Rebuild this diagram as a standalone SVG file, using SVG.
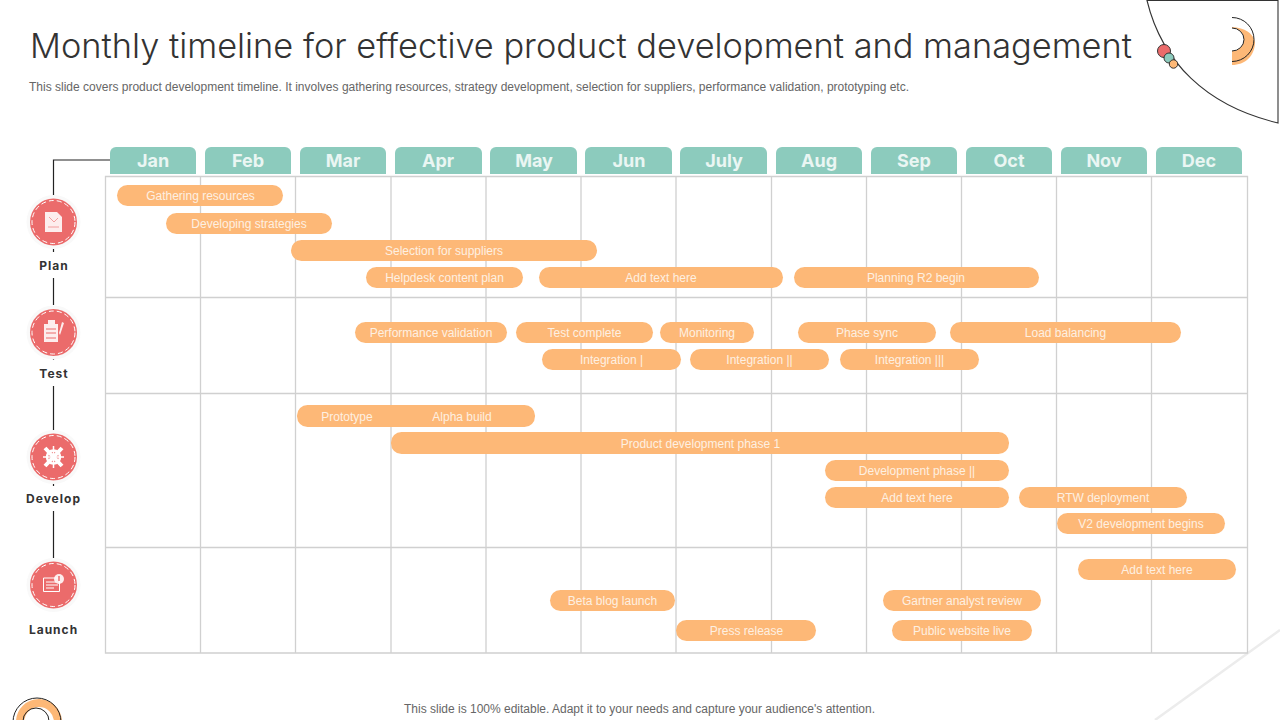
<svg xmlns="http://www.w3.org/2000/svg" width="1280" height="720" viewBox="0 0 1280 720">
<style>
text{font-family:"Liberation Sans",Arial,sans-serif}
.title{font-family:Inter,"Liberation Sans",sans-serif;font-weight:300;font-size:34px;fill:#333}
.sub{font-size:12px;fill:#666}
.tab{fill:#8ccbbd}
.m{font-family:Inter,"Liberation Sans",sans-serif;font-weight:700;font-size:18px;fill:#eaf6f3;text-anchor:middle}
.g{stroke:#d0d0d0;stroke-width:1.3;fill:none}
.b{fill:#fdb877}
.t{font-size:12px;fill:#fdf0e2;text-anchor:middle}
.c{fill:#eb6b6b}
.halo{fill:#f9f9f9}
.st{fill:none;stroke:#fff;stroke-width:1;stroke-dasharray:5 3}
.l{font-family:Inter,"Liberation Sans",sans-serif;font-weight:700;font-size:12px;fill:#333;text-anchor:middle;letter-spacing:1px}
.k{stroke:#222;stroke-width:1.2;fill:none}
.i{fill:#fff;fill-opacity:.88}
.iln{stroke:#eb6b6b;stroke-width:1;fill:none}
</style>
<g id="decor">
<path d="M1147 .5C1162 62 1206 106 1278 123V.5Z" fill="#fff" stroke="#333" stroke-width="1.1"/>
<path d="M1232 27C1245 28 1253 33 1255 42C1255 56 1245 65 1232 65V51A12 11.500 0 0 0 1232 28Z" fill="#fdb877"/>
<path d="M1232 17.500A22 22 0 0 1 1232 61.500M1232 28A12 11.500 0 0 1 1232 51" fill="none" stroke="#222" stroke-width="1"/>
<circle cx="1164" cy="51" r="6.500" fill="#eb6b6b" stroke="#333"/>
<circle cx="1169" cy="58" r="5" fill="#8ccbbd" stroke="#333"/>
<circle cx="1173.500" cy="64" r="4.200" fill="#fdb877" stroke="#333"/>
<path d="M1155 720L1280 630" stroke="#ececec" stroke-width="2.500" fill="none"/>
<circle cx="39" cy="722" r="19" fill="none" stroke="#fdb877" stroke-width="8"/>
<circle cx="37" cy="722" r="24" fill="none" stroke="#222" stroke-width="1"/>
<circle cx="36" cy="721" r="13" fill="none" stroke="#222" stroke-width="1"/>
</g>
<g id="heading">
<text class="title" x="30" y="58" textLength="1102" lengthAdjust="spacingAndGlyphs">Monthly timeline for effective product development and management</text>
<text class="sub" x="29" y="91" textLength="880" lengthAdjust="spacingAndGlyphs">This slide covers product development timeline. It involves gathering resources, strategy development, selection for suppliers, performance validation, prototyping etc.</text>
<text class="sub" x="404" y="713" textLength="471" lengthAdjust="spacingAndGlyphs">This slide is 100% editable. Adapt it to your needs and capture your audience's attention.</text>
</g>
<g id="grid">
<path class="g" d="M105.500 176.500H1247.500V653H105.500ZM200.500 176.500V653M295.500 176.500V653M391 176.500V653M486 176.500V653M581 176.500V653M676 176.500V653M771.500 176.500V653M866.500 176.500V653M961.500 176.500V653M1056.500 176.500V653M1151.500 176.500V653M105.500 297.500H1247.500M105.500 393.500H1247.500M105.500 547.500H1247.500"/>
</g>
<g id="months">
<g id="m-jan"><path class="tab" d="M110 174V153a6 6 0 0 1 6-6H190a6 6 0 0 1 6 6V174Z"/><text class="m" x="153" y="167">Jan</text></g>
<g id="m-feb"><path class="tab" d="M205 174V153a6 6 0 0 1 6-6H285a6 6 0 0 1 6 6V174Z"/><text class="m" x="248" y="167">Feb</text></g>
<g id="m-mar"><path class="tab" d="M300 174V153a6 6 0 0 1 6-6H380a6 6 0 0 1 6 6V174Z"/><text class="m" x="343" y="167">Mar</text></g>
<g id="m-apr"><path class="tab" d="M395 174V153a6 6 0 0 1 6-6H476a6 6 0 0 1 6 6V174Z"/><text class="m" x="438" y="167">Apr</text></g>
<g id="m-may"><path class="tab" d="M490 174V153a6 6 0 0 1 6-6H571a6 6 0 0 1 6 6V174Z"/><text class="m" x="534" y="167">May</text></g>
<g id="m-jun"><path class="tab" d="M585 174V153a6 6 0 0 1 6-6H666a6 6 0 0 1 6 6V174Z"/><text class="m" x="629" y="167">Jun</text></g>
<g id="m-jul"><path class="tab" d="M680 174V153a6 6 0 0 1 6-6H761a6 6 0 0 1 6 6V174Z"/><text class="m" x="724" y="167">July</text></g>
<g id="m-aug"><path class="tab" d="M776 174V153a6 6 0 0 1 6-6H856a6 6 0 0 1 6 6V174Z"/><text class="m" x="819" y="167">Aug</text></g>
<g id="m-sep"><path class="tab" d="M871 174V153a6 6 0 0 1 6-6H951a6 6 0 0 1 6 6V174Z"/><text class="m" x="914" y="167">Sep</text></g>
<g id="m-oct"><path class="tab" d="M966 174V153a6 6 0 0 1 6-6H1046a6 6 0 0 1 6 6V174Z"/><text class="m" x="1009" y="167">Oct</text></g>
<g id="m-nov"><path class="tab" d="M1061 174V153a6 6 0 0 1 6-6H1141a6 6 0 0 1 6 6V174Z"/><text class="m" x="1104" y="167">Nov</text></g>
<g id="m-dec"><path class="tab" d="M1156 174V153a6 6 0 0 1 6-6H1236a6 6 0 0 1 6 6V174Z"/><text class="m" x="1199" y="167">Dec</text></g>
</g>
<g id="connectors">
<path class="k" d="M110 160H53.500V196M53.500 249V252M53.500 278V305M53.500 358V360M53.500 386V430M53.500 483V486M53.500 511V558"/>
</g>
<g id="bars">
<g id="b1"><rect class="b" x="117" y="185" width="166" height="21" rx="10.500"/><text class="t" x="200.500" y="200">Gathering resources</text></g>
<g id="b2"><rect class="b" x="166" y="213" width="166" height="21" rx="10.500"/><text class="t" x="249" y="228">Developing strategies</text></g>
<g id="b3"><rect class="b" x="291" y="240" width="306" height="21" rx="10.500"/><text class="t" x="444" y="255">Selection for suppliers</text></g>
<g id="b4"><rect class="b" x="366" y="267" width="157" height="21" rx="10.500"/><text class="t" x="444.500" y="282">Helpdesk content plan</text></g>
<g id="b5"><rect class="b" x="539" y="267" width="244" height="21" rx="10.500"/><text class="t" x="661" y="282">Add text here</text></g>
<g id="b6"><rect class="b" x="794" y="267" width="245" height="21" rx="10.500"/><text class="t" x="916" y="282">Planning R2 begin</text></g>
<g id="b7"><rect class="b" x="355" y="322" width="152" height="21" rx="10.500"/><text class="t" x="431" y="337">Performance validation</text></g>
<g id="b8"><rect class="b" x="516" y="322" width="137" height="21" rx="10.500"/><text class="t" x="584.500" y="337">Test complete</text></g>
<g id="b9"><rect class="b" x="660" y="322" width="94" height="21" rx="10.500"/><text class="t" x="707" y="337">Monitoring</text></g>
<g id="b10"><rect class="b" x="798" y="322" width="138" height="21" rx="10.500"/><text class="t" x="867" y="337">Phase sync</text></g>
<g id="b11"><rect class="b" x="950" y="322" width="231" height="21" rx="10.500"/><text class="t" x="1065.500" y="337">Load balancing</text></g>
<g id="b12"><rect class="b" x="542" y="349" width="139" height="21" rx="10.500"/><text class="t" x="611.500" y="364">Integration |</text></g>
<g id="b13"><rect class="b" x="690" y="349" width="139" height="21" rx="10.500"/><text class="t" x="759.500" y="364">Integration ||</text></g>
<g id="b14"><rect class="b" x="840" y="349" width="139" height="21" rx="10.500"/><text class="t" x="909.500" y="364">Integration |||</text></g>
<g id="b15"><rect class="b" x="297" y="405" width="238" height="22" rx="10.500"/><text class="t" x="347" y="421">Prototype</text><text class="t" x="462" y="421">Alpha build</text></g>
<g id="b16"><rect class="b" x="391" y="432" width="618" height="22" rx="10.500"/><text class="t" x="700.500" y="448">Product development phase 1</text></g>
<g id="b17"><rect class="b" x="825" y="460" width="184" height="21" rx="10.500"/><text class="t" x="917" y="475">Development phase ||</text></g>
<g id="b18"><rect class="b" x="825" y="487" width="184" height="21" rx="10.500"/><text class="t" x="917" y="502">Add text here</text></g>
<g id="b19"><rect class="b" x="1019" y="487" width="168" height="21" rx="10.500"/><text class="t" x="1103" y="502">RTW deployment</text></g>
<g id="b20"><rect class="b" x="1057" y="513" width="168" height="21" rx="10.500"/><text class="t" x="1141" y="528">V2 development begins</text></g>
<g id="b21"><rect class="b" x="1078" y="559" width="158" height="21" rx="10.500"/><text class="t" x="1157" y="574">Add text here</text></g>
<g id="b22"><rect class="b" x="550" y="590" width="125" height="21" rx="10.500"/><text class="t" x="612.500" y="605">Beta blog launch</text></g>
<g id="b23"><rect class="b" x="883" y="590" width="158" height="21" rx="10.500"/><text class="t" x="962" y="605">Gartner analyst review</text></g>
<g id="b24"><rect class="b" x="676" y="620" width="140" height="21" rx="10.500"/><text class="t" x="746.500" y="635">Press release</text></g>
<g id="b25"><rect class="b" x="892" y="620" width="140" height="21" rx="10.500"/><text class="t" x="962" y="635">Public website live</text></g>
</g>
<g id="plan">
<circle class="halo" cx="53.500" cy="222" r="27"/><circle class="c" cx="53.500" cy="222" r="23.500"/><circle class="st" cx="53.500" cy="222" r="21.500"/>
<path class="i" d="M45 212H57L62 217V232H45Z"/><path class="iln" d="M49 217L54 222L58 218M48 227H59" stroke-opacity=".6"/>
<text class="l" x="54" y="270">Plan</text>
</g>
<g id="test">
<circle class="halo" cx="53.500" cy="332.500" r="27"/><circle class="c" cx="53.500" cy="332.500" r="23.500"/><circle class="st" cx="53.500" cy="332.500" r="21.500"/>
<path class="i" d="M44 324H58V342H44Z"/><path class="i" d="M48 320H55V324H48ZM59 333L62 322L64 323L60 335Z"/><path class="iln" d="M46 329H56M46 333H56M46 338H56"/>
<text class="l" x="54" y="378">Test</text>
</g>
<g id="develop">
<circle class="halo" cx="53.500" cy="457" r="27"/><circle class="c" cx="53.500" cy="457" r="23.500"/><circle class="st" cx="53.500" cy="457" r="21.500"/>
<path d="M45 448L62 466M62 448L45 466" stroke="#fff" stroke-width="4" fill="none"/><path d="M53.500 446V468M43 457H64" stroke="#fff" stroke-width="1.500" fill="none"/><circle cx="53.500" cy="457" r="6.500" fill="none" stroke="#fff" stroke-width="2.500"/>
<text class="l" x="53.500" y="503">Develop</text>
</g>
<g id="launch">
<circle class="halo" cx="53.500" cy="585" r="27"/><circle class="c" cx="53.500" cy="585" r="23.500"/><circle class="st" cx="53.500" cy="585" r="21.500"/>
<path d="M43.500 578H59.500V591.500H43.500Z" fill="none" stroke="#fff" stroke-width="1"/><path d="M46 582H56M46 585H58M46 588H54" stroke="#fff" stroke-width="1" fill="none"/>
<circle class="i" cx="59" cy="579" r="5"/><path d="M59 576V581" stroke="#eb6b6b" stroke-width="1.500"/>
<text class="l" x="53.500" y="634">Launch</text>
</g>
</svg>
